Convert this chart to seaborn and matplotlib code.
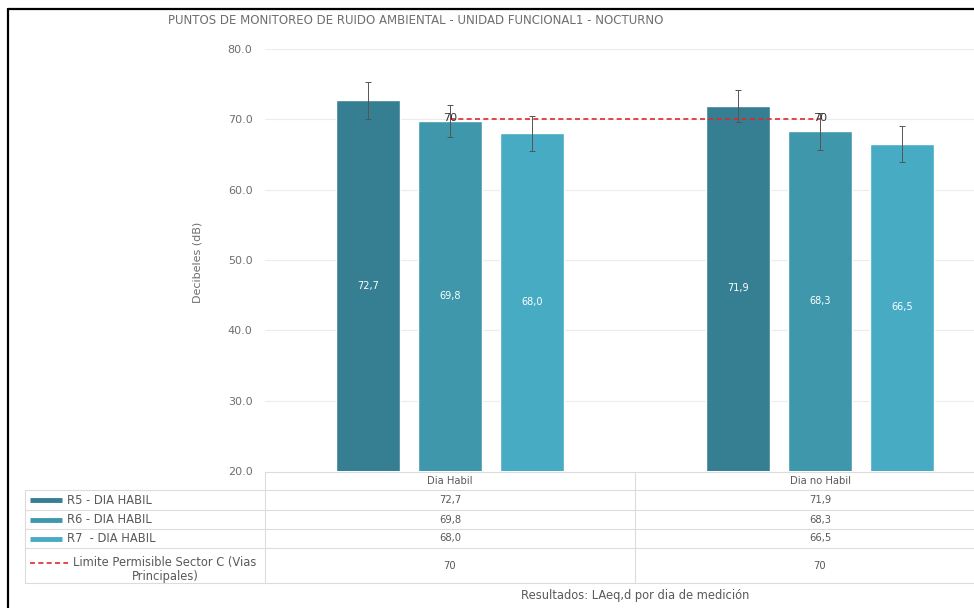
import numpy as np
import pandas as pd
import matplotlib
matplotlib.use("Agg")
import matplotlib.pyplot as plt
import seaborn as sns
from matplotlib.lines import Line2D
from matplotlib.transforms import blended_transform_factory

# datos del grafico
dias = ["Dia Habil", "Dia no Habil"]
series = ["R5 - DIA HABIL", "R6 - DIA HABIL", "R7  - DIA HABIL"]
r5 = [72.7, 71.9]
r6 = [69.8, 68.3]
r7 = [68.0, 66.5]
r5_err = [2.6, 2.3]
r6_err = [2.3, 2.6]
r7_err = [2.5, 2.6]
limite = [70, 70]
limite_nombre = "Limite Permisible Sector C (Vias\nPrincipales)"
y_ticks = [20, 30, 40, 50, 60, 70, 80]
colores = ["#367f93", "#3f97ab", "#47abc4"]
rojo = "#e0282e"
gris = "#595959"
gris_claro = "#6e6e6e"
linea_tabla = "#dcdcdc"

valores = [r5, r6, r7]
errores = [r5_err, r6_err, r7_err]

df = pd.DataFrame({
    "dia": dias * len(series),
    "serie": [s for s in series for _ in dias],
    "valor": r5 + r6 + r7,
})

sns.set_style("white")
plt.rcParams["font.family"] = ["DejaVu Sans"]

W, H = 974, 608
fig = plt.figure(figsize=(W / 100, H / 100), dpi=100)


def fx(px):
    return px / W


def fy(py):
    return 1 - py / H


ax = fig.add_axes([fx(265), fy(471), fx(740), 422 / H])
sns.barplot(data=df, x="dia", y="valor", hue="serie", palette=colores,
            saturation=1, width=0.665, gap=0.22, legend=False, ax=ax)

ax.set_ylim(y_ticks[0], y_ticks[-1])
ax.set_xlim(-0.5, len(dias) - 0.5)
ax.set_yticks(y_ticks)
ax.set_yticklabels([f"{t:.1f}" for t in y_ticks], fontsize=8, color=gris_claro)
ax.tick_params(axis="y", length=0, pad=9)
ax.tick_params(axis="x", length=0, labelbottom=False)
ax.set_xlabel("")
ax.set_ylabel("")
for s in ax.spines.values():
    s.set_visible(False)
ax.yaxis.grid(True, color="#ececec", lw=0.8)
ax.set_axisbelow(True)

# barras de error y etiquetas dentro de las barras
for cont, vals, errs in zip(ax.containers, valores, errores):
    xs = [p.get_x() + p.get_width() / 2 for p in cont]
    ax.errorbar(xs, vals, yerr=errs, fmt="none", ecolor="#555555",
                elinewidth=0.7, capsize=2.5, capthick=0.7, zorder=4)
    for x, v in zip(xs, vals):
        ax.text(x, (y_ticks[0] + v) / 2, f"{v:.1f}".replace(".", ","),
                ha="center", va="center", color="white", fontsize=7)

# limite permisible
xpos = np.arange(len(dias))
ax.plot(xpos, limite, color=rojo, lw=1.2, ls=(0, (3, 2)), zorder=5)
for x, v in zip(xpos, limite):
    ax.text(x, v + 0.2, f"{v}", ha="center", va="center", fontsize=8,
            color="#333333", zorder=6)

# titulo y eje
fig.text(fx(416), fy(20), "PUNTOS DE MONITOREO DE RUIDO AMBIENTAL - UNIDAD FUNCIONAL1 - NOCTURNO",
         ha="center", va="center", fontsize=8.5, color=gris_claro)
fig.text(fx(197), fy(262), "Decibeles (dB)", rotation=90, ha="center",
         va="center", fontsize=8, color=gris_claro)

# tabla de datos bajo el grafico
tr = blended_transform_factory(ax.transData, fig.transFigure)
x0, x1 = -0.5, len(dias) - 0.5
fs = 7.2
fs_izq = 8.3

fig.add_artist(Line2D([x0, x1], [fy(472), fy(472)], transform=tr, color=linea_tabla, lw=0.8))
for yy in [490, 510, 529, 548, 583]:
    fig.add_artist(Line2D([fx(25), fx(265)], [fy(yy), fy(yy)], color=linea_tabla, lw=0.8))
    fig.add_artist(Line2D([x0, x1], [fy(yy), fy(yy)], transform=tr, color=linea_tabla, lw=0.8))
fig.add_artist(Line2D([fx(25), fx(25)], [fy(490), fy(583)], color=linea_tabla, lw=0.8))
for xb in np.arange(x0, x1 + 1):
    fig.add_artist(Line2D([xb, xb], [fy(472), fy(583)], transform=tr, color=linea_tabla, lw=0.8))

for i, d in enumerate(dias):
    fig.text(i, fy(481), d, transform=tr, ha="center", va="center", fontsize=fs, color=gris)

filas_y = [500, 519.5, 538.5]
for nombre, vals, col, yy in zip(series, valores, colores, filas_y):
    fig.add_artist(Line2D([fx(30), fx(62)], [fy(yy), fy(yy)], color=col, lw=3.5,
                          solid_capstyle="butt"))
    fig.text(fx(67), fy(yy), nombre, ha="left", va="center", fontsize=fs_izq, color=gris)
    for i, v in enumerate(vals):
        fig.text(i, fy(yy), f"{v:.1f}".replace(".", ","), transform=tr,
                 ha="center", va="center", fontsize=fs, color=gris)

fig.add_artist(Line2D([fx(30), fx(68)], [fy(563), fy(563)], color=rojo, lw=1.2, ls=(0, (3, 2))))
fig.text(fx(165), fy(569.5), limite_nombre, ha="center", va="center",
         multialignment="center", fontsize=fs_izq, color=gris, linespacing=1.1)
for i, v in enumerate(limite):
    fig.text(i, fy(566), f"{v}", transform=tr, ha="center", va="center",
             fontsize=fs, color=gris)

fig.text(0.5, fy(595), "Resultados: LAeq,d por dia de medición", transform=tr,
         ha="center", va="center", fontsize=8.3, color=gris)

# marco negro (izquierda y arriba)
fig.add_artist(Line2D([fx(8), fx(8)], [fy(9), 0], color="black", lw=1.6))
fig.add_artist(Line2D([fx(8), 1], [fy(9), fy(9)], color="black", lw=1.6))

fig.savefig("out.png", dpi=100)
